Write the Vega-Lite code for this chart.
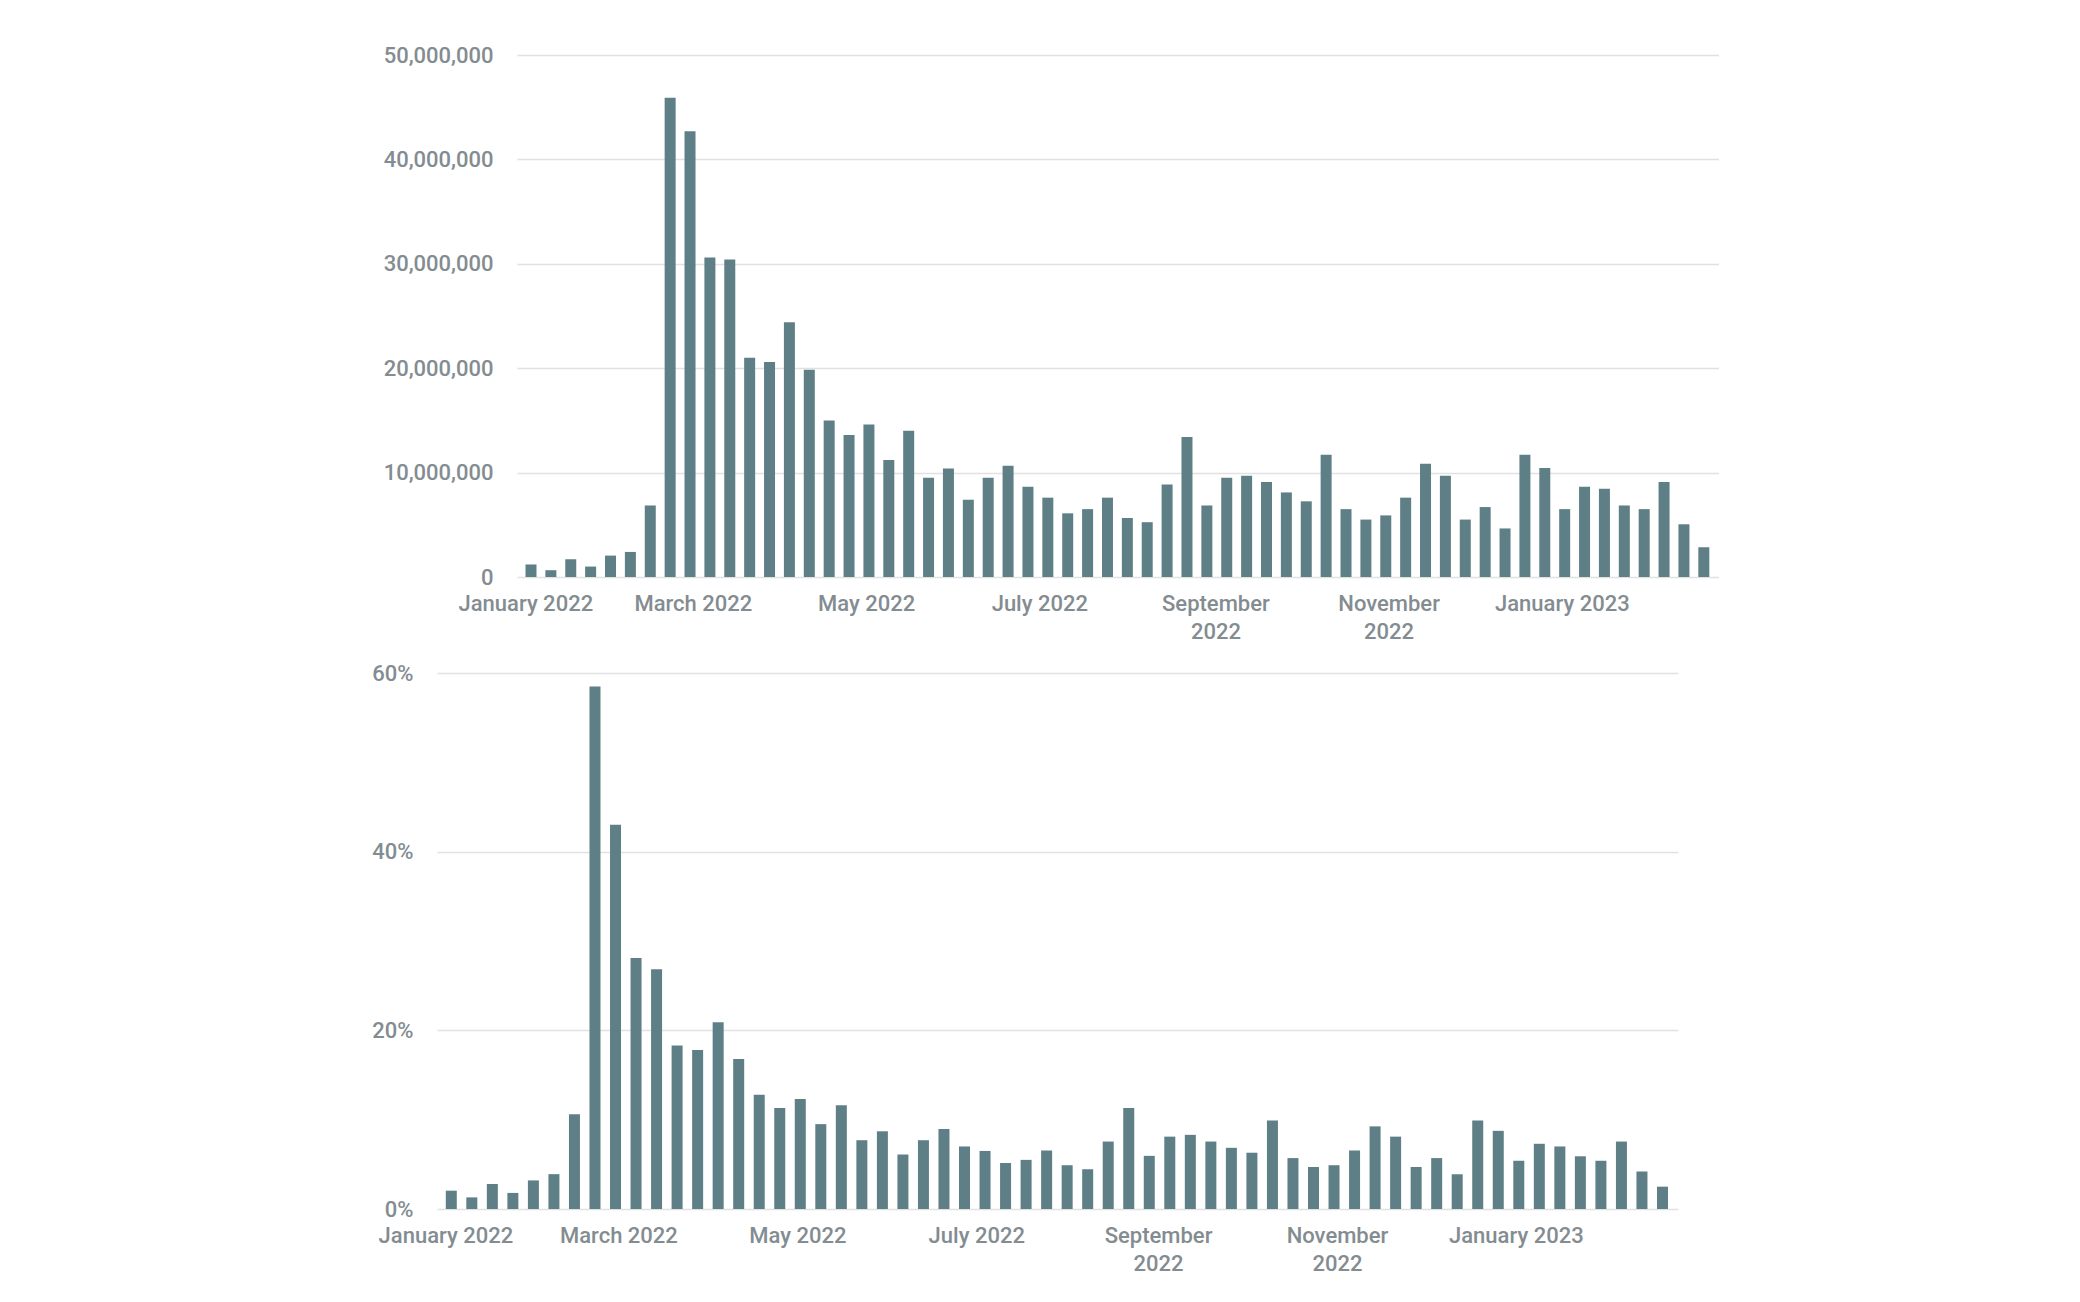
{
  "$schema": "https://vega.github.io/schema/vega-lite/v6.json",
  "background": "white",
  "padding": {"left": 371, "top": 44, "right": 0, "bottom": 0},
  "spacing": 20,
  "config": {
    "view": {"stroke": null},
    "axis": {
      "labelFont": "Roboto",
      "labelFontSize": 22,
      "labelFontWeight": 500,
      "labelColor": "#838c91",
      "gridColor": "#e1e1e1",
      "gridWidth": 1.5,
      "domain": false,
      "ticks": false,
      "title": null
    }
  },
  "data": {
    "values": [
      {"week": "2022-01-03", "views": 1200000, "share": 0.0205},
      {"week": "2022-01-10", "views": 650000, "share": 0.013},
      {"week": "2022-01-17", "views": 1700000, "share": 0.028},
      {"week": "2022-01-24", "views": 1000000, "share": 0.018},
      {"week": "2022-01-31", "views": 2050000, "share": 0.032},
      {"week": "2022-02-07", "views": 2400000, "share": 0.039},
      {"week": "2022-02-14", "views": 6850000, "share": 0.106},
      {"week": "2022-02-21", "views": 45900000, "share": 0.585},
      {"week": "2022-02-28", "views": 42700000, "share": 0.430},
      {"week": "2022-03-07", "views": 30600000, "share": 0.281},
      {"week": "2022-03-14", "views": 30400000, "share": 0.2685},
      {"week": "2022-03-21", "views": 21000000, "share": 0.183},
      {"week": "2022-03-28", "views": 20600000, "share": 0.178},
      {"week": "2022-04-04", "views": 24400000, "share": 0.209},
      {"week": "2022-04-11", "views": 19850000, "share": 0.168},
      {"week": "2022-04-18", "views": 15000000, "share": 0.128},
      {"week": "2022-04-25", "views": 13600000, "share": 0.113},
      {"week": "2022-05-02", "views": 14600000, "share": 0.123},
      {"week": "2022-05-09", "views": 11200000, "share": 0.095},
      {"week": "2022-05-16", "views": 14000000, "share": 0.116},
      {"week": "2022-05-23", "views": 9500000, "share": 0.077},
      {"week": "2022-05-30", "views": 10400000, "share": 0.087},
      {"week": "2022-06-06", "views": 7400000, "share": 0.061},
      {"week": "2022-06-13", "views": 9500000, "share": 0.077},
      {"week": "2022-06-20", "views": 10650000, "share": 0.0895},
      {"week": "2022-06-27", "views": 8650000, "share": 0.070},
      {"week": "2022-07-04", "views": 7600000, "share": 0.065},
      {"week": "2022-07-11", "views": 6100000, "share": 0.0515},
      {"week": "2022-07-18", "views": 6500000, "share": 0.055},
      {"week": "2022-07-25", "views": 7600000, "share": 0.0655},
      {"week": "2022-08-01", "views": 5650000, "share": 0.049},
      {"week": "2022-08-08", "views": 5250000, "share": 0.0445},
      {"week": "2022-08-15", "views": 8850000, "share": 0.0755},
      {"week": "2022-08-22", "views": 13400000, "share": 0.113},
      {"week": "2022-08-29", "views": 6850000, "share": 0.0595},
      {"week": "2022-09-05", "views": 9500000, "share": 0.081},
      {"week": "2022-09-12", "views": 9700000, "share": 0.083},
      {"week": "2022-09-19", "views": 9100000, "share": 0.0755},
      {"week": "2022-09-26", "views": 8100000, "share": 0.0685},
      {"week": "2022-10-03", "views": 7250000, "share": 0.063},
      {"week": "2022-10-10", "views": 11700000, "share": 0.099},
      {"week": "2022-10-17", "views": 6500000, "share": 0.057},
      {"week": "2022-10-24", "views": 5500000, "share": 0.047},
      {"week": "2022-10-31", "views": 5900000, "share": 0.049},
      {"week": "2022-11-07", "views": 7600000, "share": 0.0655},
      {"week": "2022-11-14", "views": 10850000, "share": 0.0925},
      {"week": "2022-11-21", "views": 9700000, "share": 0.081},
      {"week": "2022-11-28", "views": 5500000, "share": 0.047},
      {"week": "2022-12-05", "views": 6700000, "share": 0.057},
      {"week": "2022-12-12", "views": 4650000, "share": 0.039},
      {"week": "2022-12-19", "views": 11700000, "share": 0.099},
      {"week": "2022-12-26", "views": 10450000, "share": 0.0875},
      {"week": "2023-01-02", "views": 6500000, "share": 0.054},
      {"week": "2023-01-09", "views": 8650000, "share": 0.073},
      {"week": "2023-01-16", "views": 8450000, "share": 0.070},
      {"week": "2023-01-23", "views": 6850000, "share": 0.059},
      {"week": "2023-01-30", "views": 6500000, "share": 0.054},
      {"week": "2023-02-06", "views": 9100000, "share": 0.0755},
      {"week": "2023-02-13", "views": 5050000, "share": 0.042},
      {"week": "2023-02-20", "views": 2850000, "share": 0.025}
    ]
  },
  "vconcat": [
    {
      "bounds": "flush",
      "spacing": 0,
      "hconcat": [
        {
          "width": 80,
          "height": 522,
          "data": {"values": []},
          "mark": {"type": "point", "opacity": 0},
          "encoding": {}
        },
        {
          "width": 1202,
          "height": 522,
          "mark": {"type": "bar", "color": "#5f7f87", "size": 11},
          "encoding": {
            "x": {
              "field": "week",
              "type": "temporal",
              "scale": {
                "type": "utc",
                "domain": [
                  {"year": 2021, "month": 12, "date": 30, "hours": 20, "utc": true},
                  {"year": 2023, "month": 2, "date": 23, "hours": 14, "utc": true}
                ]
              },
              "axis": {
                "grid": false,
                "labelPadding": 16,
                "labelFlush": false,
                "labelOverlap": false,
                "labelLineHeight": 28,
                "values": [
                  {"year": 2022, "month": 1, "date": 1, "utc": true},
                  {"year": 2022, "month": 3, "date": 1, "utc": true},
                  {"year": 2022, "month": 5, "date": 1, "utc": true},
                  {"year": 2022, "month": 7, "date": 1, "utc": true},
                  {"year": 2022, "month": 9, "date": 1, "utc": true},
                  {"year": 2022, "month": 11, "date": 1, "utc": true},
                  {"year": 2023, "month": 1, "date": 1, "utc": true}
                ],
                "labelExpr": "length(utcFormat(datum.value, '%B %Y')) > 12 ? [utcFormat(datum.value, '%B'), utcFormat(datum.value, '%Y')] : utcFormat(datum.value, '%B %Y')"
              }
            },
            "y": {
              "field": "views",
              "type": "quantitative",
              "scale": {"domain": [0, 50000000], "nice": false},
              "axis": {
                "values": [0, 10000000, 20000000, 30000000, 40000000, 50000000],
                "format": ",d",
                "labelPadding": 24
              }
            }
          }
        }
      ]
    },
    {
      "width": 1241,
      "height": 536,
      "mark": {"type": "bar", "color": "#5f7f87", "size": 11},
      "encoding": {
        "x": {
          "field": "week",
          "type": "temporal",
          "scale": {
            "type": "utc",
            "domain": [
              {"year": 2021, "month": 12, "date": 30, "hours": 20, "utc": true},
              {"year": 2023, "month": 2, "date": 23, "hours": 14, "utc": true}
            ]
          },
          "axis": {
            "grid": false,
            "labelPadding": 16,
            "labelFlush": false,
            "labelOverlap": false,
            "labelLineHeight": 28,
            "values": [
              {"year": 2022, "month": 1, "date": 1, "utc": true},
              {"year": 2022, "month": 3, "date": 1, "utc": true},
              {"year": 2022, "month": 5, "date": 1, "utc": true},
              {"year": 2022, "month": 7, "date": 1, "utc": true},
              {"year": 2022, "month": 9, "date": 1, "utc": true},
              {"year": 2022, "month": 11, "date": 1, "utc": true},
              {"year": 2023, "month": 1, "date": 1, "utc": true}
            ],
            "labelExpr": "length(utcFormat(datum.value, '%B %Y')) > 12 ? [utcFormat(datum.value, '%B'), utcFormat(datum.value, '%Y')] : utcFormat(datum.value, '%B %Y')"
          }
        },
        "y": {
          "field": "share",
          "type": "quantitative",
          "scale": {"domain": [0, 0.6], "nice": false},
          "axis": {
            "values": [0, 0.2, 0.4, 0.6],
            "format": ".0%",
            "labelPadding": 24
          }
        }
      }
    }
  ]
}
